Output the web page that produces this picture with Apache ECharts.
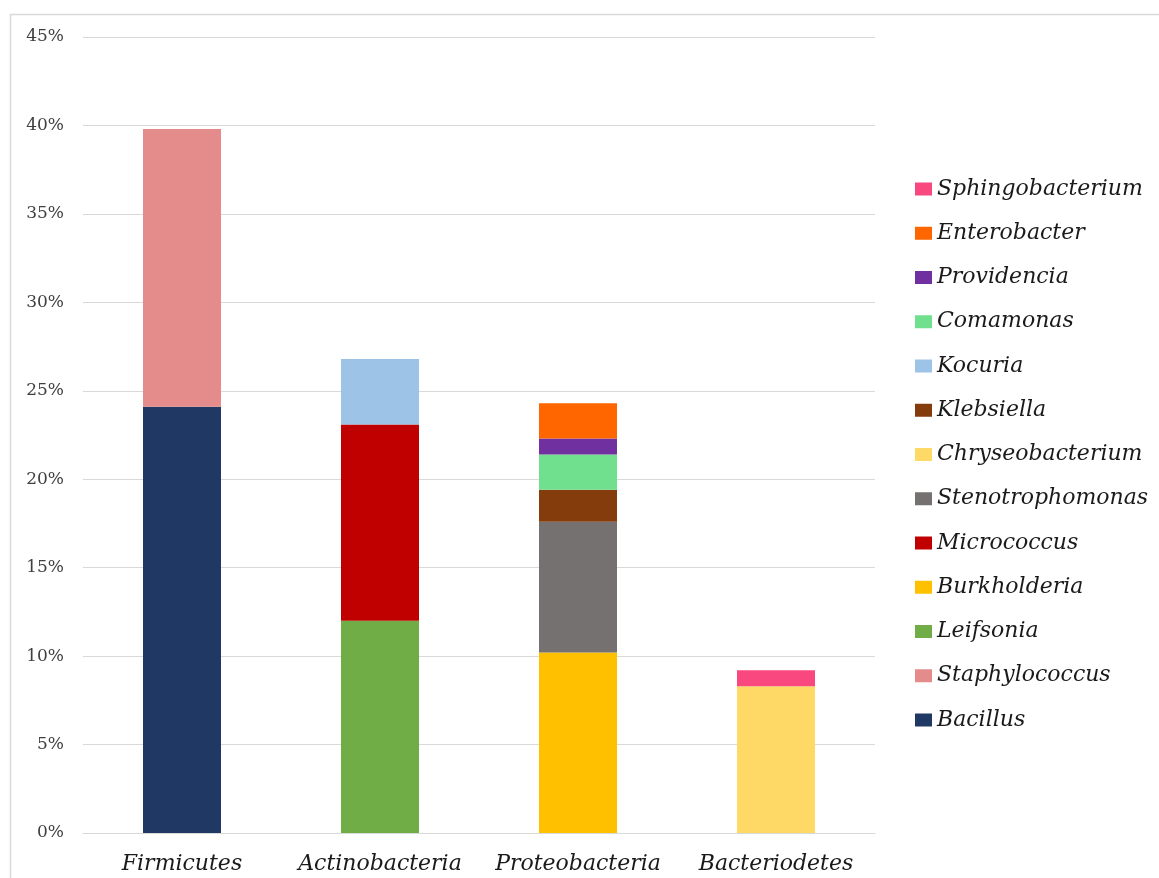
<!DOCTYPE html>
<html>
<head>
<meta charset="utf-8">
<title>Genera by phylum</title>
<script src="https://cdn.jsdelivr.net/npm/echarts@6/dist/echarts.min.js"></script>
<style>
  html, body { margin: 0; padding: 0; background: #ffffff; overflow: hidden; }
  #chart { width: 1159px; height: 878px; }
</style>
</head>
<body>
<div id="chart"></div>
<script>
// Phyla on the x axis
const phyla = ['Firmicutes', 'Actinobacteria', 'Proteobacteria', 'Bacteriodetes'];

// Share of isolates (%) per genus, stacked within each phylum
const bacillus          = [24.1, null, null, null];
const staphylococcus    = [15.7, null, null, null];
const leifsonia         = [null, 12.0, null, null];
const micrococcus       = [null, 11.1, null, null];
const kocuria           = [null, 3.7, null, null];
const burkholderia      = [null, null, 10.2, null];
const stenotrophomonas  = [null, null, 7.4, null];
const klebsiella        = [null, null, 1.8, null];
const comamonas         = [null, null, 2.0, null];
const providencia       = [null, null, 0.9, null];
const enterobacter      = [null, null, 2.0, null];
const chryseobacterium  = [null, null, null, 8.3];
const sphingobacterium  = [null, null, null, 0.9];

// Y axis ticks
const yTicks = [0, 5, 10, 15, 20, 25, 30, 35, 40, 45];

// Stacking order, bottom to top
const genera = [
  ['Bacillus', bacillus, '#203864'],
  ['Staphylococcus', staphylococcus, '#e48b8b'],
  ['Leifsonia', leifsonia, '#70ad47'],
  ['Burkholderia', burkholderia, '#ffc000'],
  ['Micrococcus', micrococcus, '#c00000'],
  ['Stenotrophomonas', stenotrophomonas, '#767171'],
  ['Chryseobacterium', chryseobacterium, '#ffd966'],
  ['Klebsiella', klebsiella, '#843c0c'],
  ['Kocuria', kocuria, '#9dc3e6'],
  ['Comamonas', comamonas, '#70e08e'],
  ['Providencia', providencia, '#7030a0'],
  ['Enterobacter', enterobacter, '#ff6600'],
  ['Sphingobacterium', sphingobacterium, '#f8487f']
];

const serif = 'DejaVu Serif';

const chart = echarts.init(document.getElementById('chart'), null, { renderer: 'canvas' });

chart.setOption({
  animation: false,
  backgroundColor: '#ffffff',
  graphic: [{
    type: 'rect',
    silent: true,
    shape: { x: 10.5, y: 14.5, width: 1400, height: 1200 },
    style: { fill: 'none', stroke: '#d9d9d9', lineWidth: 1.5 }
  }],
  grid: { left: 83, width: 792, top: 37, bottom: 45, containLabel: false },
  legend: {
    orient: 'vertical',
    left: 910,
    top: 173,
    itemWidth: 17,
    itemHeight: 13,
    itemGap: 22.25,
    icon: 'rect',
    selectedMode: false,
    data: genera.map(g => g[0]).slice().reverse(),
    textStyle: {
      fontFamily: serif,
      fontStyle: 'italic',
      fontSize: 22,
      lineHeight: 22,
      color: '#1a1a1a'
    }
  },
  xAxis: {
    type: 'category',
    data: phyla,
    axisTick: { show: false },
    axisLine: { lineStyle: { color: '#d9d9d9', width: 1.2 } },
    axisLabel: {
      interval: 0,
      margin: 20,
      fontFamily: serif,
      fontStyle: 'italic',
      fontSize: 22,
      color: '#1a1a1a'
    }
  },
  yAxis: {
    type: 'value',
    min: yTicks[0],
    max: yTicks[yTicks.length - 1],
    interval: yTicks[1] - yTicks[0],
    axisLine: { show: false },
    axisTick: { show: false },
    splitLine: { lineStyle: { color: '#d9d9d9', width: 1.2 } },
    axisLabel: {
      margin: 19,
      formatter: '{value}%',
      fontFamily: serif,
      fontSize: 17,
      color: '#404040'
    }
  },
  series: genera.map(([name, values, color]) => ({
    name: name,
    type: 'bar',
    stack: 'phylum',
    barWidth: 78,
    data: values,
    itemStyle: { color: color },
    emphasis: { disabled: true }
  }))
});
</script>
</body>
</html>
